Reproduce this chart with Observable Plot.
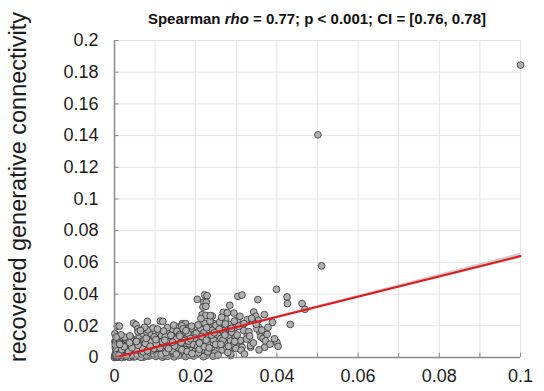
<!DOCTYPE html>
<html>
<head>
<meta charset="utf-8">
<script src="https://cdn.jsdelivr.net/npm/d3@7"></script>
<script src="https://cdn.jsdelivr.net/npm/@observablehq/plot@0.6"></script>
<style>
  body { margin: 0; background: #fff; font-family: "Liberation Sans", Arial, Helvetica, sans-serif; }
  #wrap { position: relative; width: 544px; height: 391px; overflow: hidden; }
  #title { position: absolute; top: 10px; left: 114px; width: 406px; text-align: center;
           font-weight: bold; font-size: 15px; line-height: 18px; color: #111; white-space: nowrap; }
  #chart svg { display: block; }
</style>
</head>
<body>
<div id="wrap">
  <div id="chart"></div>
  <div id="title">Spearman <i>rho</i> = 0.77; p &lt; 0.001; CI = [0.76, 0.78]</div>
</div>
<script>
// Each pair: [true generative connectivity, recovered generative connectivity]
const edges = [
  [.0399,.043],[.0204,.0367],[.0222,.0395],[.0228,.039],[.022,.035],[.0226,.0348],[.0218,.0318],[.0225,.0323],
  [.0304,.0386],[.0314,.0394],[.0353,.0365],[.0425,.0382],[.0426,.034],[.0462,.034],[.0469,.0304],[.0433,.0209],
  [.0284,.0329],[.0268,.0285],[.0278,.0283],[.0294,.028],[.0216,.027],[.0225,.0266],[.0241,.0261],[.0343,.0287],
  [.0348,.026],[.0354,.0234],[.04,.0095],[.0403,.007],[.037,.0065],[.0355,.019],[.0358,.016],[.036,.013],
  [.0366,.012],[.0372,.0105],[.0007,.0198],[.0012,.0198],[.0001,.015],[.0047,.0217],[.0053,.0206],[.0057,.018],
  [.0081,.0228],[.0113,.023],[.0119,.0228],[.0086,.0154],[.0001,.01],[.0167,.0213],[.0175,.0213],[.0183,.019],
  [.0191,.017],[.0224,.0196],[.0235,.019],[.0245,.0213],[.027,.019],[.0275,.018],[.0285,.0175],[.0296,.0188],
  [.031,.0097],[.0314,.0065],[.0335,.0065],[.0282,.0044],[.0286,.0013],[.0286,.0023],[.0327,.0239],[.0339,.0234],
  [.0303,.0234],[.0351,.0181],[.0327,.0139],[.031,.0108],[.0335,.0076],[.0318,.0171],
  [0,0],[.0003,.0005],[.0001,.0012],[.0006,.0002],[.0002,.0024],[.0009,.001],[.0004,.0036],[.0012,.0004],
  [.0007,.0048],[.0015,.0017],[.0002,.0061],[.0018,.0008],[.001,.003],[.0021,.0025],[.0005,.0073],[.0024,.0003],
  [.0013,.0055],[.0027,.0014],[.0008,.0086],[.003,.0033],[.0016,.0068],[.0033,.0006],[.0003,.0098],[.0036,.0021],
  [.002,.0042],[.0039,.0046],[.0011,.0105],[.0042,.001],[.0023,.0079],[.0045,.0032],[.0006,.0116],[.0048,.0057],
  [.0026,.0092],[.0014,.012],[.0031,.0062],[.004,.0074],[.0009,.0132],[.0035,.0085],[.0029,.0111],[.0044,.0096],
  [.0017,.0001],[.0022,.0011],[.0037,.0002],[.0005,.0052],[.0019,.0038],[.0028,.0051],[.0046,.0004],[.0034,.0103],
  [.0041,.0124],[.0002,.008],[.0012,.0091],[.0025,.0129],[.0049,.0108],[.0038,.0136],[.0016,.0143],[.0004,.0128],
  [.0047,.0023],[.002,.006],[.0032,.0045],[.001,.002],
  [.0051,.0005],[.0054,.0028],[.0057,.0063],[.006,.0012],[.0063,.0095],[.0066,.0041],[.0069,.0122],[.0072,.0003],
  [.0075,.007],[.0078,.0026],[.0081,.0104],[.0084,.005],[.0087,.013],[.009,.0015],[.0093,.0082],[.0096,.0039],
  [.0099,.0115],[.0102,.0007],[.0105,.0064],[.0108,.0142],[.0111,.0029],[.0114,.009],[.0117,.0053],[.012,.0126],
  [.0055,.011],[.0061,.0136],[.007,.0148],[.008,.0159],[.0091,.0149],[.01,.0165],[.011,.0156],[.0059,.0037],
  [.0068,.0078],[.0077,.0055],[.0085,.0009],[.0094,.0069],[.0104,.0034],[.0113,.0076],[.0118,.0002],[.0052,.0084],
  [.0065,.0001],[.0073,.0109],[.0089,.0098],[.0098,.0129],[.0109,.0101],[.0116,.0138],[.0058,.0162],[.0082,.0175],
  [.0095,.0186],[.0106,.0179],[.0074,.019],[.0064,.017],
  [.0123,.001],[.0126,.0046],[.0129,.0087],[.0132,.015],[.0135,.0023],[.0138,.0112],[.0141,.006],[.0144,.0172],
  [.0147,.0004],[.015,.0096],[.0153,.0135],[.0156,.0035],[.0159,.0193],[.0162,.0072],[.0165,.0119],[.0168,.0016],
  [.0171,.0158],[.0174,.0052],[.0177,.009],[.018,.018],[.0183,.0028],[.0186,.013],[.0189,.0067],[.0192,.0164],
  [.0195,.0009],[.0198,.0108],[.0125,.0131],[.013,.0188],[.0137,.0076],[.0142,.0128],[.0149,.0049],[.0154,.0165],
  [.016,.0144],[.0166,.02],[.0172,.0034],[.0178,.0123],[.0184,.0086],[.019,.0198],[.0196,.0146],[.0128,.0064],
  [.014,.0018],[.0158,.0061],[.0169,.0181],[.0188,.0044],[.0194,.0083],[.0134,.0099],[.0151,.0114],[.017,.0107],
  [.0181,.015],[.0199,.004],[.0146,.0204],[.0163,.0025],[.0176,.0169],[.0121,.0167],[.0139,.014],
  [.0202,.0022],[.0205,.007],[.0208,.0125],[.0211,.0182],[.0214,.0044],[.0217,.0102],[.022,.0156],[.0223,.0215],
  [.0226,.0013],[.0229,.0086],[.0232,.0138],[.0235,.023],[.0238,.0055],[.0241,.0172],[.0244,.0109],[.0247,.0028],
  [.025,.0203],[.0253,.0145],[.0256,.0073],[.0259,.0224],[.0262,.012],[.0265,.0047],[.0268,.0168],[.0271,.0094],
  [.0274,.0242],[.0277,.0062],[.028,.0132],[.0283,.0208],[.0286,.0104],[.0289,.0159],[.0292,.0078],[.0295,.0229],
  [.0298,.0127],[.0206,.0205],[.0213,.0246],[.0227,.0188],[.0236,.0264],[.0249,.0083],[.0258,.0179],[.0267,.011],
  [.0279,.0032],[.0288,.0184],[.0299,.0056],[.0219,.0005],[.023,.0036],[.0243,.0008],[.0255,.0015],[.0264,.0254],
  [.0273,.0212],[.0201,.0153],
  [.0302,.0142],[.0306,.0198],[.0312,.0046],[.0319,.0214],[.0325,.0116],[.0331,.0163],[.0338,.0247],[.0342,.0092],
  [.0349,.021],[.0356,.0048],[.0363,.0173],[.0369,.0271],[.0376,.0146],[.0383,.0084],[.0389,.0222],[.0394,.0118],
  [.0309,.026],[.032,.0022],[.0333,.0135],[.0378,.019],
  [.0008,.0006],[.0025,.0016],[.0043,.0013],[.0056,.0018],[.0067,.0021],[.0079,.0011],[.0088,.0031],[.0097,.0022],
  [.0107,.0017],[.0119,.0039],[.0131,.0008],[.0145,.0027],[.0157,.0012],[.0175,.0006],[.0185,.0014],[.0207,.0031],
  [.0004,.0018],[.0015,.0029],[.0033,.0027],[.0062,.0044],[.0071,.0035],[.0093,.0047],[.0115,.0019],[.0136,.0037],
  [.0011,.0015],[.0029,.0009],[.0035,.0039],[.0053,.0049],[.0069,.0058],[.0081,.0043],[.0097,.0056],[.0112,.0062],
  [.0127,.0031],[.0143,.0043],[.0152,.0021],[.0166,.0049],[.0179,.0038],[.0191,.0025],[.0209,.0052],[.0221,.0068],
  [.0233,.0061],[.0018,.0049],[.0024,.0068],[.0043,.0061],[.0058,.0078],[.0076,.0089],[.0088,.0071],[.0103,.0087],
  [.0118,.0099],[.0133,.0056],[.0148,.0073],[.0164,.0094],[.0182,.0104],[.0197,.0122],[.0215,.0133],[.0239,.0142],
  [.0013,.0083],[.0037,.0093],[.0054,.0101],[.0078,.0121],[.0102,.0113],[.0124,.0109],[.0143,.0097],[.0161,.0135],
  [.0187,.0119],[.0209,.0092],[.0226,.0109],[.0246,.0156],[.0262,.0083],[.0281,.0071],[.0296,.0101],[.0272,.0142],
  [.0501,.1405],[.051,.0578],[.1,.1845]
];

// Least-squares fit line and its confidence band
const fitX  = [0, 0.1];
const fitY  = [0, 0.064];
const bandX = [0, 0.012, 0.05, 0.1];
const bandLo = [-0.0004, 0.0074, 0.0313, 0.0624];
const bandHi = [0.0004, 0.0080, 0.0327, 0.0657];

// Axis ticks and labels
const xMinorTicks = [0, 0.01, 0.02, 0.03, 0.04, 0.05, 0.06, 0.07, 0.08, 0.09, 0.1];
const xTicks = [0, 0.02, 0.04, 0.06, 0.08, 0.1];
const xTickLabels = ["0", "0.02", "0.04", "0.06", "0.08", "0.1"];
const yTicks = [0, 0.02, 0.04, 0.06, 0.08, 0.1, 0.12, 0.14, 0.16, 0.18, 0.2];
const yTickLabels = ["0", "0.02", "0.04", "0.06", "0.08", "0.1", "0.12", "0.14", "0.16", "0.18", "0.2"];
const yLabel = "recovered generative connectivity";

const fit = fitX.map((x, i) => ({x, y: fitY[i]}));
const band = bandX.map((x, i) => ({x, lo: bandLo[i], hi: bandHi[i]}));
const axisColor = "#8a8a8a";

const chart = Plot.plot({
  width: 544,
  height: 391,
  marginLeft: 114,
  marginRight: 24,
  marginTop: 40,
  marginBottom: 34,
  style: {fontFamily: "Liberation Sans, Arial, Helvetica, sans-serif", color: "#1c1c1c", background: "#fff"},
  x: {domain: [0, 0.1], label: null},
  y: {domain: [0, 0.2], label: null},
  marks: [
    Plot.ruleX(xMinorTicks, {stroke: "#e4e4e4", strokeWidth: 1}),
    Plot.ruleY(yTicks, {stroke: "#e4e4e4", strokeWidth: 1}),
    Plot.areaY(band, {x: "x", y1: "lo", y2: "hi", fill: "#c2c2c2", fillOpacity: 0.85}),
    Plot.dot(edges, {x: d => d[0], y: d => d[1], r: 3.4, fill: "#b0b0b0", stroke: "#2a2a2a", strokeWidth: 0.75}),
    Plot.line(fit, {x: "x", y: "y", stroke: "#e8161b", strokeWidth: 2}),
    Plot.ruleX([0], {stroke: axisColor, strokeWidth: 1.5}),
    Plot.ruleY([0], {stroke: axisColor, strokeWidth: 1.5}),
    Plot.ruleX(xMinorTicks, {y1: 0, y2: 0.0027, stroke: axisColor}),
    Plot.ruleY(yTicks, {x1: 0, x2: 0.0011, stroke: axisColor}),
    Plot.axisX({ticks: xTicks, tickSize: 0, tickPadding: 12, fontSize: 18, label: null,
                tickFormat: d => xTickLabels[xTicks.indexOf(d)]}),
    Plot.axisY({ticks: yTicks, tickSize: 0, tickPadding: 16, fontSize: 18, label: null,
                tickFormat: d => yTickLabels[yTicks.indexOf(d)]}),
    Plot.text([yLabel], {frameAnchor: "left", dx: -96, dy: -12, rotate: -90, textAnchor: "middle",
                         fontSize: 23.5, fill: "#1c1c1c"})
  ]
});
document.getElementById("chart").appendChild(chart);
</script>
</body>
</html>
